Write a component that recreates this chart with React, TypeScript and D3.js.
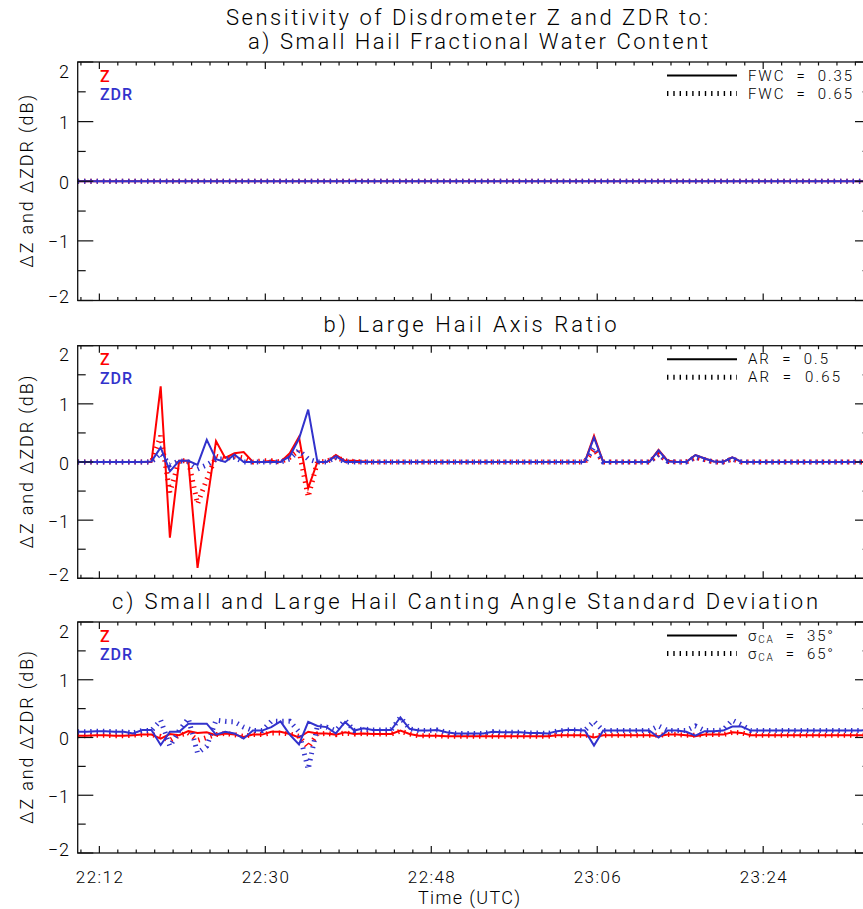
import React from "react";
import * as d3 from "d3";

const WIDTH = 863;
const HEIGHT = 909;

// One disdrometer sample per minute, first one at 22:09:39 UTC
const FIRST_SAMPLE = "22:09:39";
const SAMPLE_COUNT = 87;
const SAMPLE_STEP_MIN = 1;

const xMajorLabels = ["22:12", "22:30", "22:48", "23:06", "23:24"];
const yMajorTicks = [-2, -1, 0, 1, 2];
const yMinorTicks = [-1.5, -0.5, 0.5, 1.5];

// a) small hail fractional water content
const fwcZ035 = [
  0, 0, 0, 0, 0, 0, 0, 0, 0, 0,
  0, 0, 0, 0, 0, 0, 0, 0, 0, 0,
  0, 0, 0, 0, 0, 0, 0, 0, 0, 0,
  0.01, 0, 0, 0, 0, 0, 0, 0, 0, 0,
  0, 0, 0, 0, 0, 0, 0, 0, 0, 0,
  0, 0, 0, 0, 0, 0, 0, 0, 0, 0,
  0, 0, 0, 0, 0, 0, 0, 0, 0, 0,
  0, 0, 0, 0, 0, 0, 0, 0, 0, 0,
  0, 0, 0, 0, 0, 0, 0,
];
const fwcZ065 = [
  0, 0, 0, 0, 0, 0, 0, 0, 0, 0,
  0, 0, 0, 0, 0, 0, 0, 0, 0, 0,
  0, 0, 0, 0, 0, 0, 0, 0, 0, 0,
  0, 0, 0, 0, 0, 0, 0, 0, 0, 0,
  0, 0, 0, 0, 0, 0, 0, 0, 0, 0,
  0, 0, 0, 0, 0, 0, 0, 0, 0, 0,
  0, 0, 0, 0, 0, 0, 0, 0, 0, 0,
  0, 0, 0, 0, 0, 0, 0, 0, 0, 0,
  0, 0, 0, 0, 0, 0, 0,
];
const fwcZdr035 = [
  0, 0, 0, 0, 0, 0, 0, 0, 0, 0,
  0, 0, 0, 0, 0, 0, 0, 0, 0, 0,
  0, 0, 0, 0, 0, 0, 0, 0, 0, 0,
  0, 0, 0, 0, 0, 0, 0, 0, 0, 0,
  0, 0, 0, 0, 0, 0, 0, 0, 0, 0,
  0, 0, 0, 0, 0, 0, 0, 0, 0, 0,
  0, 0, 0, 0, 0, 0, 0, 0, 0, 0,
  0, 0, 0, 0, 0, 0, 0, 0, 0, 0,
  0, 0, 0, 0, 0, 0, 0,
];
const fwcZdr065 = [
  0, 0, 0, 0, 0, 0, 0, 0, 0, 0,
  0, 0, 0, 0, 0, 0, 0, 0, 0, 0,
  0, 0, 0, 0, 0, 0, 0, 0, 0, 0,
  0, 0, 0, 0, 0, 0, 0, 0, 0, 0,
  0, 0, 0, 0, 0, 0, 0, 0, 0, 0,
  0, 0, 0, 0, 0, 0, 0, 0, 0, 0,
  0, 0, 0, 0, 0, 0, 0, 0, 0, 0,
  0, 0, 0, 0, 0, 0, 0, 0, 0, 0,
  0, 0, 0, 0, 0, 0, 0,
];

// b) large hail axis ratio
const arZ050 = [
  0, 0, 0, 0, 0, 0, 0, 0, 0, 1.3,
  -1.3, 0.02, 0.02, -1.82, -0.72, 0.36, 0.07, 0.15, 0.17, 0,
  0, 0.02, 0, 0.15, 0.43, -0.45, 0, 0, 0.12, 0.02,
  0.02, 0.01, 0, 0, 0, 0, 0, 0, 0, 0,
  0, 0, 0, 0, 0, 0, 0, 0, 0, 0,
  0, 0, 0, 0, 0, 0, 0.45, 0, 0, 0,
  0, 0, 0, 0.21, 0.02, 0, 0, 0.12, 0.06, 0.01,
  0, 0.08, 0, 0, 0, 0, 0, 0, 0, 0,
  0, 0, 0, 0, 0, 0, 0,
];
const arZ065 = [
  0, 0, 0, 0, 0, 0, 0, 0, 0, 0.45,
  -0.52, 0.02, 0.02, -0.72, -0.3, 0.1, 0.05, 0.1, 0.07, 0,
  0.02, 0.02, 0, 0.08, 0.2, -0.6, 0, 0.01, 0.08, 0.02,
  0.01, 0, 0, 0, 0, 0, 0, 0, 0, 0,
  0, 0, 0, 0, 0, 0, 0, 0, 0, 0,
  0, 0, 0, 0, 0, 0, 0.22, 0, 0, 0,
  0, 0, 0, 0.13, 0.01, 0, 0, 0.08, 0.04, 0,
  0, 0.05, 0, 0, 0, 0, 0, 0, 0, 0,
  0, 0, 0, 0, 0, 0, 0,
];
const arZdr050 = [
  0, 0, 0, 0, 0, 0, 0, 0, 0.01, 0.25,
  -0.16, 0.02, 0.02, -0.05, 0.38, 0.05, 0, 0.13, 0, 0,
  0, 0, 0, 0.1, 0.4, 0.9, 0, 0, 0.1, 0,
  0, 0, 0, 0, 0, 0, 0, 0, 0, 0,
  0, 0, 0, 0, 0, 0, 0, 0, 0, 0,
  0, 0, 0, 0, 0, 0, 0.42, 0, 0, 0,
  0, 0, 0, 0.2, 0.01, 0, 0, 0.12, 0.06, 0.01,
  0, 0.08, 0, 0, 0, 0, 0, 0, 0, 0,
  0, 0, 0, 0, 0, 0, 0,
];
const arZdr065 = [
  0, 0, 0, 0, 0, 0, 0, 0, 0, 0.15,
  -0.05, 0.02, 0, -0.12, -0.05, 0.05, 0.05, 0.08, 0, 0,
  0, 0, 0, 0.05, 0.2, 0.05, 0, 0, 0.08, 0,
  0, 0, 0, 0, 0, 0, 0, 0, 0, 0,
  0, 0, 0, 0, 0, 0, 0, 0, 0, 0,
  0, 0, 0, 0, 0, 0, 0.25, 0, 0, 0,
  0, 0, 0, 0.13, 0.01, 0, 0, 0.08, 0.04, 0,
  0, 0.05, 0, 0, 0, 0, 0, 0, 0, 0,
  0, 0, 0, 0, 0, 0, 0,
];

// c) canting angle standard deviation
const caZ35 = [
  0.03, 0.03, 0.04, 0.04, 0.03, 0.03, 0.04, 0.05, 0.05, -0.02,
  0.06, 0.04, 0.11, 0.08, 0.09, 0.04, 0.07, 0.05, 0.01, 0.05,
  0.05, 0.1, 0.1, 0.06, 0, 0.1, 0.07, 0.07, 0.05, 0.09,
  0.06, 0.07, 0.06, 0.06, 0.06, 0.12, 0.06, 0.03, 0.03, 0.03,
  0.02, 0.02, 0.02, 0.02, 0.02, 0.02, 0.02, 0.02, 0.02, 0.02,
  0.02, 0.02, 0.04, 0.04, 0.04, 0.04, 0, 0.04, 0.04, 0.04,
  0.04, 0.04, 0.04, 0.02, 0.05, 0.05, 0.04, 0.02, 0.05, 0.05,
  0.05, 0.09, 0.08, 0.04, 0.04, 0.04, 0.04, 0.04, 0.04, 0.04,
  0.04, 0.04, 0.04, 0.04, 0.04, 0.04, 0.04,
];
const caZ65 = [
  0.03, 0.03, 0.04, 0.04, 0.03, 0.03, 0.04, 0.05, 0.05, 0.02,
  -0.05, 0.04, 0.08, -0.05, 0, 0.05, 0.07, 0.05, 0.02, 0.05,
  0.05, 0.08, 0.08, 0.06, 0.02, -0.17, 0.06, 0.07, 0.05, 0.08,
  0.06, 0.07, 0.06, 0.06, 0.06, 0.11, 0.06, 0.03, 0.03, 0.03,
  0.02, 0.02, 0.02, 0.02, 0.02, 0.02, 0.02, 0.02, 0.02, 0.02,
  0.02, 0.02, 0.04, 0.04, 0.04, 0.04, 0.03, 0.04, 0.04, 0.04,
  0.04, 0.04, 0.04, 0.04, 0.05, 0.05, 0.04, 0.04, 0.05, 0.05,
  0.05, 0.09, 0.08, 0.04, 0.04, 0.04, 0.04, 0.04, 0.04, 0.04,
  0.04, 0.04, 0.04, 0.04, 0.04, 0.04, 0.04,
];
const caZdr35 = [
  0.1, 0.1, 0.11, 0.11, 0.1, 0.1, 0.07, 0.13, 0.13, -0.13,
  0.1, 0.1, 0.24, 0.24, 0.24, 0.05, 0.1, 0.07, -0.02, 0.12,
  0.12, 0.18, 0.28, 0.05, -0.12, 0.27, 0.2, 0.18, 0.07, 0.27,
  0.12, 0.16, 0.13, 0.13, 0.13, 0.35, 0.15, 0.12, 0.12, 0.13,
  0.09, 0.07, 0.07, 0.07, 0.07, 0.1, 0.09, 0.09, 0.09, 0.08,
  0.08, 0.07, 0.11, 0.13, 0.13, 0.12, -0.14, 0.12, 0.12, 0.12,
  0.12, 0.12, 0.12, 0, 0.12, 0.12, 0.1, 0.03, 0.11, 0.11,
  0.12, 0.19, 0.19, 0.12, 0.12, 0.12, 0.12, 0.12, 0.12, 0.12,
  0.12, 0.12, 0.12, 0.12, 0.12, 0.12, 0.15,
];
const caZdr65 = [
  0.1, 0.1, 0.11, 0.11, 0.1, 0.1, 0.08, 0.12, 0.12, 0.3,
  -0.15, 0.12, 0.33, -0.27, -0.15, 0.3, 0.28, 0.27, 0.18, 0.12,
  0.12, 0.28, 0.28, 0.28, 0.1, -0.55, 0.2, 0.18, 0.12, 0.3,
  0.12, 0.15, 0.13, 0.13, 0.13, 0.35, 0.15, 0.12, 0.12, 0.13,
  0.09, 0.07, 0.07, 0.07, 0.07, 0.1, 0.09, 0.09, 0.09, 0.08,
  0.08, 0.07, 0.11, 0.13, 0.13, 0.12, 0.28, 0.12, 0.12, 0.12,
  0.12, 0.12, 0.12, 0.2, 0.12, 0.12, 0.12, 0.2, 0.12, 0.12,
  0.13, 0.3, 0.22, 0.12, 0.12, 0.12, 0.12, 0.12, 0.12, 0.12,
  0.12, 0.12, 0.12, 0.12, 0.12, 0.12, 0.15,
];

const RED = "#ff0000";
const BLUE = "#3232cc";
const FONT = "Roboto, 'DejaVu Sans', sans-serif";

const PLOT_LEFT = 77.7;
const PLOT_RIGHT = 870.6;

type TitleLine = { text: string; cx: number; width: number };

type Panel = {
  key: string;
  top: number;
  bottom: number;
  title: TitleLine[];
  legendName: string;
  legendValues: string[];
  legendWidths: number[];
  z: number[][];
  zdr: number[][];
};

const panels: Panel[] = [
  {
    key: "fwc",
    top: 62,
    bottom: 300.5,
    title: [
      { text: "Sensitivity of Disdrometer Z and ZDR to:", cx: 467, width: 482 },
      { text: "a) Small Hail Fractional Water Content", cx: 478, width: 460 },
    ],
    legendName: "FWC",
    legendValues: ["0.35", "0.65"],
    legendWidths: [104, 104],
    z: [fwcZ035, fwcZ065],
    zdr: [fwcZdr035, fwcZdr065],
  },
  {
    key: "ar",
    top: 345.7,
    bottom: 578.3,
    title: [{ text: "b) Large Hail Axis Ratio", cx: 470, width: 293 }],
    legendName: "AR",
    legendValues: ["0.5", "0.65"],
    legendWidths: [80, 92],
    z: [arZ050, arZ065],
    zdr: [arZdr050, arZdr065],
  },
  {
    key: "ca",
    top: 622,
    bottom: 853,
    title: [{ text: "c) Small and Large Hail Canting Angle Standard Deviation", cx: 465, width: 706 }],
    legendName: "σ",
    legendValues: ["35°", "65°"],
    legendWidths: [85, 85],
    z: [caZ35, caZ65],
    zdr: [caZdr35, caZdr65],
  },
];

const toMinutes = (s: string) => {
  const [h, m, sec] = s.split(":").map(Number);
  return h * 60 + m + (sec || 0) / 60;
};

const t0 = toMinutes(FIRST_SAMPLE);
const sampleTimes = d3.range(SAMPLE_COUNT).map((i) => t0 + i * SAMPLE_STEP_MIN);

const x = d3
  .scaleLinear()
  .domain([sampleTimes[0], sampleTimes[sampleTimes.length - 1]])
  .range([PLOT_LEFT, PLOT_RIGHT]);

const majorTimes = xMajorLabels.map(toMinutes);
const minorTimes = d3
  .range(Math.ceil(x.domain()[0] / 2) * 2, x.domain()[1], 2)
  .filter((t) => !majorTimes.includes(t));

const SOLID_W = 2;
const DOT_W = 5;
const DOT_DASH = "1.4 4.9";

function PanelView({ p, last }: { p: Panel; last: boolean }) {
  const y = d3.scaleLinear().domain([-2, 2]).range([p.bottom, p.top]);
  const line = d3
    .line<number>()
    .x((_, i) => x(sampleTimes[i]))
    .y((d) => y(d));
  const clipId = `clip-${p.key}`;
  const midY = (p.top + p.bottom) / 2;
  const legX0 = 667;
  const legX1 = 737;
  const rows = [p.top + 13.5, p.top + 31.5];

  return (
    <g>
      <defs>
        <clipPath id={clipId}>
          <rect x={PLOT_LEFT} y={p.top} width={PLOT_RIGHT - PLOT_LEFT} height={p.bottom - p.top} />
        </clipPath>
      </defs>

      {/* titles */}
      {p.title.map((t, i) => (
        <text
          key={i}
          x={t.cx}
          y={p.top - 21 - (p.title.length - 1 - i) * 24}
          textAnchor="middle"
          dominantBaseline="central"
          fontSize={22}
          fontWeight={300}
          textLength={t.width}
          lengthAdjust="spacing"
          style={{ whiteSpace: "pre" }}
        >
          {t.text}
        </text>
      ))}

      {/* series */}
      <g clipPath={`url(#${clipId})`} fill="none">
        <path d={line(p.z[0]) || ""} stroke={RED} strokeWidth={SOLID_W} />
        <path d={line(p.z[1]) || ""} stroke={RED} strokeWidth={DOT_W} strokeDasharray={DOT_DASH} />
        <path d={line(p.zdr[0]) || ""} stroke={BLUE} strokeWidth={SOLID_W} />
        <path d={line(p.zdr[1]) || ""} stroke={BLUE} strokeWidth={DOT_W} strokeDasharray={DOT_DASH} />
      </g>

      {/* frame */}
      <rect
        x={PLOT_LEFT}
        y={p.top}
        width={PLOT_RIGHT - PLOT_LEFT}
        height={p.bottom - p.top}
        fill="none"
        stroke="#111"
        strokeWidth={1.3}
      />

      {/* ticks on all four sides */}
      <g stroke="#111" strokeWidth={1.2}>
        {yMajorTicks.map((v) => (
          <g key={`M${v}`}>
            <line x1={PLOT_LEFT} x2={PLOT_LEFT + 15.6} y1={y(v)} y2={y(v)} />
            <line x1={PLOT_RIGHT} x2={PLOT_RIGHT - 15.6} y1={y(v)} y2={y(v)} />
          </g>
        ))}
        {yMinorTicks.map((v) => (
          <g key={`m${v}`}>
            <line x1={PLOT_LEFT} x2={PLOT_LEFT + 8} y1={y(v)} y2={y(v)} />
            <line x1={PLOT_RIGHT} x2={PLOT_RIGHT - 8} y1={y(v)} y2={y(v)} />
          </g>
        ))}
        {majorTimes.map((t) => (
          <g key={`X${t}`}>
            <line x1={x(t)} x2={x(t)} y1={p.bottom} y2={p.bottom - 7} />
            <line x1={x(t)} x2={x(t)} y1={p.top} y2={p.top + 7} />
          </g>
        ))}
        {minorTimes.map((t) => (
          <g key={`x${t}`}>
            <line x1={x(t)} x2={x(t)} y1={p.bottom} y2={p.bottom - 3.5} />
            <line x1={x(t)} x2={x(t)} y1={p.top} y2={p.top + 3.5} />
          </g>
        ))}
      </g>

      {/* y tick labels */}
      {yMajorTicks.map((v) => {
        const ty = Math.min(Math.max(y(v) + 1, p.top + 9), p.bottom - 4);
        return (
          <text
            key={`yl${v}`}
            x={70}
            y={ty}
            textAnchor="end"
            dominantBaseline="central"
            fontSize={18}
            fontWeight={300}
            letterSpacing={1}
          >
            {v < 0 ? `\u2212${Math.abs(v)}` : v}
          </text>
        );
      })}

      {/* y axis title */}
      <text
        transform={`translate(33,${midY}) rotate(-90)`}
        textAnchor="middle"
        fontSize={18}
        fontWeight={300}
        textLength={173}
        lengthAdjust="spacing"
        style={{ whiteSpace: "pre" }}
      >
        {"ΔZ and ΔZDR (dB)"}
      </text>

      {/* Z / ZDR key */}
      <text x={100} y={p.top + 14} dominantBaseline="central" fontSize={16} fontWeight={500} fill={RED}>
        Z
      </text>
      <text
        x={100}
        y={p.top + 32.5}
        dominantBaseline="central"
        fontSize={16}
        fontWeight={500}
        fill={BLUE}
        textLength={32}
        lengthAdjust="spacing"
      >
        ZDR
      </text>

      {/* line style key */}
      <line x1={legX0} x2={legX1} y1={rows[0]} y2={rows[0]} stroke="#000" strokeWidth={SOLID_W} />
      <line
        x1={legX0}
        x2={legX1}
        y1={rows[1]}
        y2={rows[1]}
        stroke="#000"
        strokeWidth={DOT_W}
        strokeDasharray={DOT_DASH}
      />
      {rows.map((ly, row) => (
        <text
          key={row}
          x={748}
          y={ly}
          dominantBaseline="central"
          fontSize={15}
          fontWeight={300}
          textLength={p.legendWidths[row]}
          lengthAdjust="spacing"
          style={{ whiteSpace: "pre" }}
        >
          {p.key === "ca" ? (
            <>
              <tspan>σ</tspan>
              <tspan fontSize={10} dy={3}>CA</tspan>
              <tspan dy={-3}>{`  =  ${p.legendValues[row]}`}</tspan>
            </>
          ) : (
            `${p.legendName}  =  ${p.legendValues[row]}`
          )}
        </text>
      ))}

      {/* x tick labels */}
      {last &&
        majorTimes.map((t, i) => (
          <text
            key={`xl${t}`}
            x={x(t)}
            y={p.bottom + 24}
            textAnchor="middle"
            dominantBaseline="central"
            fontSize={17}
            fontWeight={300}
            textLength={47}
            lengthAdjust="spacing"
          >
            {xMajorLabels[i]}
          </text>
        ))}
      {last && (
        <text
          x={469}
          y={p.bottom + 44}
          textAnchor="middle"
          dominantBaseline="central"
          fontSize={18}
          fontWeight={300}
          textLength={102}
          lengthAdjust="spacing"
        >
          Time (UTC)
        </text>
      )}
    </g>
  );
}

export default function App() {
  return (
    <div style={{ position: "absolute", left: 0, top: 0 }}>
      <svg width={WIDTH} height={HEIGHT} style={{ display: "block", background: "#fff", fontFamily: FONT }}>
        <rect width={WIDTH} height={HEIGHT} fill="#fff" />
        {panels.map((p, i) => (
          <PanelView key={p.key} p={p} last={i === panels.length - 1} />
        ))}
      </svg>
    </div>
  );
}
